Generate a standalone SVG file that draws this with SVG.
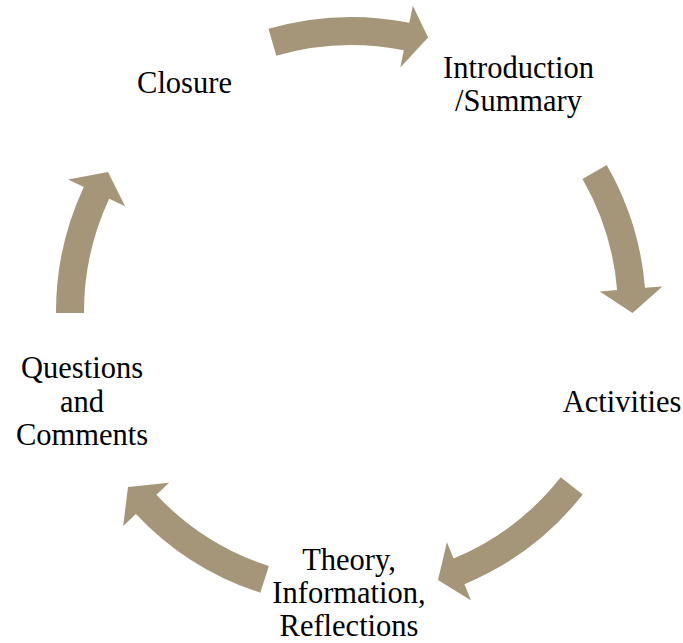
<svg xmlns="http://www.w3.org/2000/svg" width="683" height="643" viewBox="0 0 683 643">
  <style>
    .arrow { fill: #A59679; stroke: none; }
    .label { font-family: "Liberation Serif", "Times New Roman", serif; font-size: 30.5px; fill: #000000; text-anchor: middle; }
  </style>
  <rect x="0" y="0" width="683" height="643" fill="#FFFFFF"/>

  <!-- curved block arrows around a circle centred at (351,312) -->
  <g id="connectors">
    <path class="arrow" d="M268.5,28.8 A295,295 0 0 1 409.3,22.8 L412.8,5.7 L428.1,37.6 L400.3,67.4 L403.8,50.3 A267,267 0 0 0 276.3,55.7 Z"/>
    <path class="arrow" d="M606.7,164.9 A295,295 0 0 1 645.0,287.8 L662.4,286.4 L632.5,313 L599.7,291.6 L617.1,290.1 A267,267 0 0 0 582.5,178.9 Z"/>
    <path class="arrow" d="M582.7,494.6 A295,295 0 0 1 464.4,584.3 L471.1,600.5 L438,580 L446.9,542.3 L453.6,558.5 A267,267 0 0 0 560.7,477.3 Z"/>
    <path class="arrow" d="M260.3,592.7 A295,295 0 0 1 135.9,513.9 L123.2,525.9 L128,487 L169.1,482.8 L156.4,494.8 A267,267 0 0 0 268.9,566.1 Z"/>
    <path class="arrow" d="M56.0,313.0 A295,295 0 0 1 83.8,186.9 L68.0,179.4 L108,172 L125.1,206.2 L109.2,198.7 A267,267 0 0 0 84.0,312.9 Z"/>
  </g>

  <g id="introduction">
    <text class="label" x="518.5" y="78">Introduction</text>
    <text class="label" x="518.5" y="111">/Summary</text>
  </g>
  <g id="activities">
    <text class="label" x="622" y="412">Activities</text>
  </g>
  <g id="theory">
    <text class="label" x="349" y="570">Theory,</text>
    <text class="label" x="349" y="603">Information,</text>
    <text class="label" x="349" y="636">Reflections</text>
  </g>
  <g id="questions">
    <text class="label" x="82" y="378">Questions</text>
    <text class="label" x="82" y="411.5">and</text>
    <text class="label" x="82" y="445">Comments</text>
  </g>
  <g id="closure">
    <text class="label" x="184.5" y="93">Closure</text>
  </g>
</svg>
